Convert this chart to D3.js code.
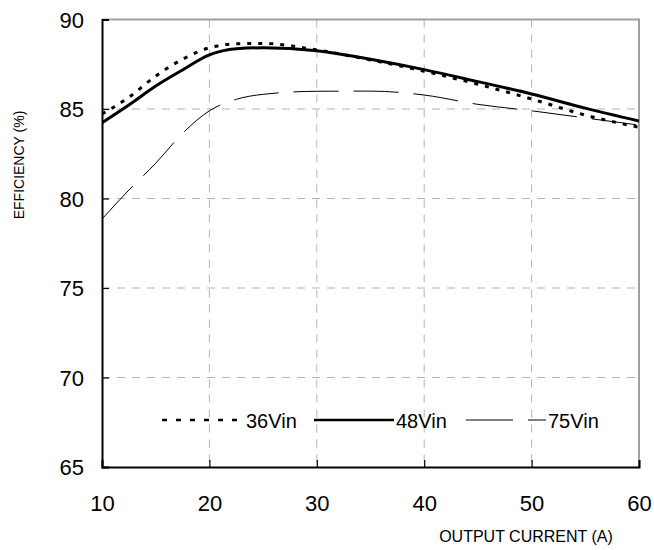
<!DOCTYPE html>
<html><head><meta charset="utf-8">
<script src="https://cdn.jsdelivr.net/npm/d3@7"></script>
<style>body{margin:0;background:#fff}svg{display:block}text{font-family:"Liberation Sans",Arial,sans-serif}</style>
</head><body><svg id="c" width="654" height="550"></svg>
<script>
const currents = [10, 12.5, 15, 17.5, 20, 22.5, 25, 30, 35, 40, 45, 50, 55, 60];
const eff36 = [84.72, 85.65, 86.84, 87.78, 88.42, 88.64, 88.66, 88.3, 87.74, 87.11, 86.38, 85.56, 84.66, 83.98];
const eff48 = [84.23, 85.22, 86.28, 87.18, 88.02, 88.36, 88.42, 88.26, 87.78, 87.2, 86.53, 85.84, 85.05, 84.33];
const eff75 = [78.85, 80.47, 81.97, 83.64, 84.9, 85.54, 85.82, 85.99, 86.0, 85.78, 85.26, 84.9, 84.5, 84.1];
const xTicks = [10, 20, 30, 40, 50, 60];
const yTicks = [65, 70, 75, 80, 85, 90];
const seriesNames = ["36Vin", "48Vin", "75Vin"];

const svg = d3.select("#c");
const L = 102, R = 639, T = 19.5, B = 467;
const x = d3.scaleLinear().domain([10, 60]).range([L, R]);
const y = d3.scaleLinear().domain([65, 90]).range([B, T]);

// grid
const g = svg.append("g");
g.selectAll(".vg").data(xTicks.slice(1, -1)).join("line")
  .attr("x1", d => x(d)).attr("x2", d => x(d)).attr("y1", T).attr("y2", B)
  .attr("stroke", "#b3b3b3").attr("stroke-width", 1).attr("stroke-dasharray", "8,7");
g.selectAll(".hg").data(yTicks.slice(1, -1)).join("line")
  .attr("y1", d => y(d)).attr("y2", d => y(d)).attr("x1", L).attr("x2", R)
  .attr("stroke", "#b3b3b3").attr("stroke-width", 1).attr("stroke-dasharray", "8,7");

// frame top/right
svg.append("line").attr("x1", L).attr("x2", R + 1).attr("y1", T).attr("y2", T).attr("stroke", "#a0a0a0").attr("stroke-width", 2);
svg.append("line").attr("x1", R).attr("x2", R).attr("y1", T).attr("y2", B).attr("stroke", "#a0a0a0").attr("stroke-width", 2);

// axes
const xAxis = d3.axisBottom(x).tickValues(xTicks).tickSize(-7).tickPadding(0).tickFormat(d3.format("d"));
const gx = svg.append("g").attr("transform", `translate(0,${B})`).call(xAxis);
gx.select(".domain").attr("stroke", "#000").attr("stroke-width", 2);
gx.selectAll(".tick line").attr("stroke", "#000").attr("stroke-width", 1.2);
gx.selectAll(".tick text").attr("font-size", 22).attr("fill", "#000").attr("dy", null).attr("y", 44);

const yAxis = d3.axisLeft(y).tickValues(yTicks).tickSize(-7).tickPadding(0).tickFormat(d3.format("d"));
const gy = svg.append("g").attr("transform", `translate(${L},0)`).call(yAxis);
gy.select(".domain").attr("stroke", "#000").attr("stroke-width", 2);
gy.selectAll(".tick line").attr("stroke", "#000").attr("stroke-width", 1.2);
gy.selectAll(".tick text").attr("font-size", 22).attr("fill", "#000").attr("x", -18).attr("dy", "0.36em");

// lines
const line = d3.line().x((d, i) => x(currents[i])).y(d => y(d)).curve(d3.curveMonotoneX);
const styles = [
  {data: eff36, w: 3, dash: "4,7"},
  {data: eff48, w: 3, dash: null},
  {data: eff75, w: 1, dash: "45,15"}
];
const clip = svg.append("clipPath").attr("id", "pc").append("rect").attr("x", L).attr("y", T).attr("width", R - L).attr("height", B - T);
styles.forEach(s => {
  svg.append("path").attr("d", line(s.data)).attr("fill", "none").attr("stroke", "#000")
    .attr("stroke-width", s.w).attr("stroke-dasharray", s.dash).attr("clip-path", "url(#pc)");
});

// legend
const legY = 420;
const legend = [
  {x1: 162, x2: 244, tx: 246, w: 2.5, dash: "5,9"},
  {x1: 314, x2: 394, tx: 396, w: 2.5, dash: null},
  {x1: 466, x2: 546, tx: 548, w: 1, dash: "47,15"}
];
legend.forEach((l, i) => {
  svg.append("line").attr("x1", l.x1).attr("x2", l.x2).attr("y1", legY).attr("y2", legY)
    .attr("stroke", "#000").attr("stroke-width", l.w).attr("stroke-dasharray", l.dash);
  svg.append("text").attr("x", l.tx).attr("y", legY + 8).attr("font-size", 20).text(seriesNames[i]);
});

// axis titles
svg.append("text").attr("x", 526).attr("y", 542).attr("text-anchor", "middle").attr("font-size", 16).text("OUTPUT CURRENT (A)");
svg.append("text").attr("transform", "translate(24,165) rotate(-90)").attr("text-anchor", "middle").attr("font-size", 14).text("EFFICIENCY (%)");
</script></body></html>
